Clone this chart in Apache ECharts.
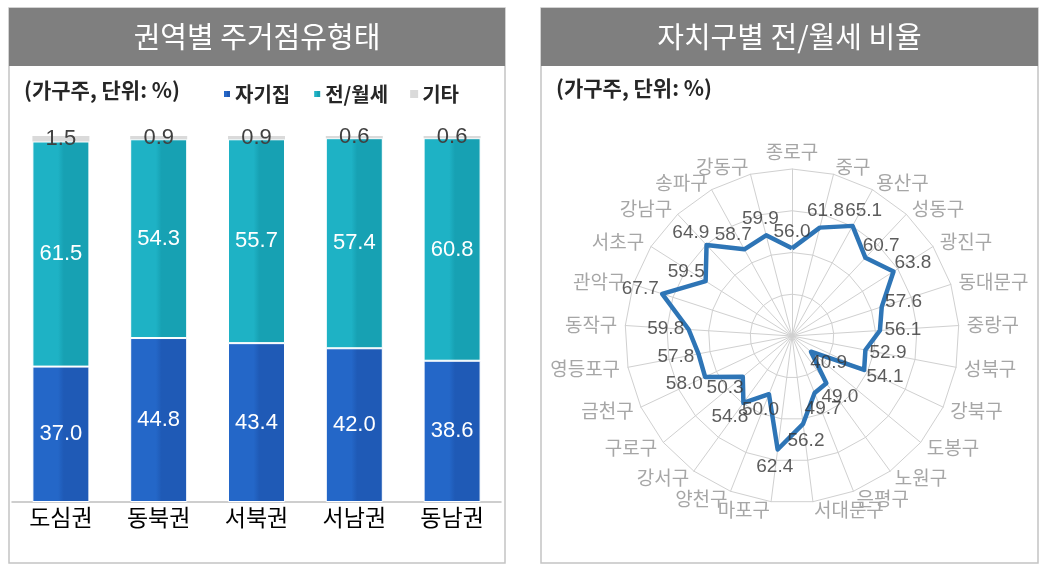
<!DOCTYPE html>
<html>
<head>
<meta charset="utf-8">
<script src="https://cdn.jsdelivr.net/npm/echarts@6/dist/echarts.min.js"></script>
<style>
html, body { margin: 0; padding: 0; background: #fff; }
#main { width: 1050px; height: 573px; }
</style>
</head>
<body>
<div id="main"></div>
<script>
// 권역별 주거점유형태 (%)
const regions = ['도심권', '동북권', '서북권', '서남권', '동남권'];
const ownHome = [37.0, 44.8, 43.4, 42.0, 38.6];
const rentHome = [61.5, 54.3, 55.7, 57.4, 60.8];
const otherHome = [1.5, 0.9, 0.9, 0.6, 0.6];

// 자치구별 전/월세 비율 (%), 종로구부터 시계방향
const districts = ['종로구', '중구', '용산구', '성동구', '광진구', '동대문구', '중랑구', '성북구', '강북구', '도봉구',
    '노원구', '은평구', '서대문구', '마포구', '양천구', '강서구', '구로구', '금천구', '영등포구', '동작구',
    '관악구', '서초구', '강남구', '송파구', '강동구'];
const rentRate = [56.0, 61.8, 65.1, 60.7, 63.8, 57.6, 56.1, 52.9, 54.1, 40.9,
    49.0, 49.7, 56.2, 62.4, 50.0, 54.8, 50.3, 58.0, 57.8, 59.8,
    67.7, 59.5, 64.9, 58.7, 59.9];
const rateMin = 35, rateMax = 75;

const KR = "'Noto Sans CJK KR', 'Noto Sans', sans-serif";
const NUM = "'Liberation Sans Narrow', 'Liberation Sans', sans-serif";

const chart = echarts.init(document.getElementById('main'));

// radar는 반시계방향으로 그리므로 순서를 뒤집어 준다
const radarOrder = districts.map((d, i) => (districts.length - i) % districts.length);

// 값 라벨은 같은 위치에 겹쳐 놓은 polar 좌표계로 바깥쪽에 찍는다
const rateLabels = districts.map((d, i) => {
    const a = i / districts.length * Math.PI * 2;
    return {
        value: [rentRate[i], i],
        label: { offset: [Math.sin(a) * 23, -Math.cos(a) * 17] }
    };
});

function grad(c1, c2) {
    return new echarts.graphic.LinearGradient(0, 0, 1, 0, [
        { offset: 0, color: c1 }, { offset: 0.45, color: c1 },
        { offset: 0.55, color: c2 }, { offset: 1, color: c2 }
    ]);
}

function panel(x, w, title) {
    return [
        { type: 'rect', z: -2, shape: { x: x, y: 8, width: w, height: 555 },
          style: { fill: '#fff', stroke: '#c4c4c4', lineWidth: 1.5 } },
        { type: 'rect', z: -1, shape: { x: x, y: 8, width: w, height: 58 },
          style: { fill: '#7f7f7f' } },
        { type: 'text', z: 5, x: x + w / 2, y: 37,
          style: { text: title, fill: '#fff', font: '29px ' + KR, textAlign: 'center', textVerticalAlign: 'middle' } }
    ];
}

const option = {
    animation: false,
    graphic: [].concat(
        panel(9, 496, '권역별 주거점유형태'),
        panel(541, 497, '자치구별 전/월세 비율'),
        [
            { type: 'text', x: 24, y: 90, style: { text: '(가구주, 단위: %)', fill: '#262626', font: 'bold 21px ' + KR, textVerticalAlign: 'middle' } },
            { type: 'text', x: 556, y: 88, style: { text: '(가구주, 단위: %)', fill: '#262626', font: 'bold 21px ' + KR, textVerticalAlign: 'middle' } }
        ]
    ),
    legend: {
        data: ['자기집', '전/월세', '기타'],
        left: 217, top: 79,
        icon: 'rect', itemWidth: 8, itemHeight: 8, itemGap: 22,
        textStyle: { fontSize: 20, color: '#262626', fontFamily: KR, fontWeight: 'bold', padding: [0, 0, 0, -1] }
    },
    grid: { left: 12, right: 549, top: 136, bottom: 71 },
    xAxis: {
        type: 'category',
        data: regions,
        axisLine: { lineStyle: { color: '#bfbfbf', width: 1.5 } },
        axisTick: { show: false },
        axisLabel: { fontSize: 23, color: '#000', fontFamily: KR, margin: 4 }
    },
    yAxis: { type: 'value', min: 0, max: 100, show: false },
    radar: {
        center: [792, 336],
        radius: 167,
        startAngle: 90,
        splitNumber: 4,
        shape: 'polygon',
        nameGap: 8,
        indicator: radarOrder.map(i => ({ name: districts[i], min: rateMin, max: rateMax })),
        axisName: { color: '#a6a6a6', fontSize: 19, fontFamily: KR },
        axisLine: { lineStyle: { color: '#d0d0d0' } },
        splitLine: { lineStyle: { color: '#d0d0d0' } },
        splitArea: { show: false }
    },
    polar: { center: [792, 336], radius: 167 },
    angleAxis: { type: 'value', min: 0, max: districts.length, startAngle: 90, clockwise: true, show: false },
    radiusAxis: { type: 'value', min: rateMin, max: rateMax, show: false },
    series: [
        {
            name: '자기집', type: 'bar', stack: 'all', barWidth: 57,
            data: ownHome,
            itemStyle: { color: grad('#2467c8', '#1f5ab6'), borderColor: '#fff', borderWidth: 1 },
            label: { show: true, position: 'inside', color: '#fff', fontSize: 22, fontFamily: NUM,
                formatter: p => p.value.toFixed(1) }
        },
        {
            name: '전/월세', type: 'bar', stack: 'all',
            data: rentHome,
            itemStyle: { color: grad('#1eb2c5', '#17a1b3'), borderColor: '#fff', borderWidth: 1 },
            label: { show: true, position: 'inside', color: '#fff', fontSize: 22, fontFamily: NUM,
                formatter: p => p.value.toFixed(1) }
        },
        {
            name: '기타', type: 'bar', stack: 'all',
            data: otherHome,
            itemStyle: { color: '#dadada' },
            label: { show: true, position: 'inside', color: '#404040', fontSize: 22, fontFamily: NUM,
                formatter: p => p.value.toFixed(1) }
        },
        {
            type: 'radar',
            symbol: 'none',
            lineStyle: { color: '#2e75b6', width: 4.5 },
            data: [{ value: radarOrder.map(i => rentRate[i]) }]
        },
        {
            type: 'scatter',
            coordinateSystem: 'polar',
            symbolSize: 1,
            itemStyle: { color: 'rgba(0,0,0,0)' },
            data: rateLabels,
            label: { show: true, position: 'inside', color: '#333', fontSize: 19, fontFamily: NUM,
                formatter: p => p.value[0].toFixed(1) },
            z: 5
        }
    ]
};

chart.setOption(option);
</script>
</body>
</html>
